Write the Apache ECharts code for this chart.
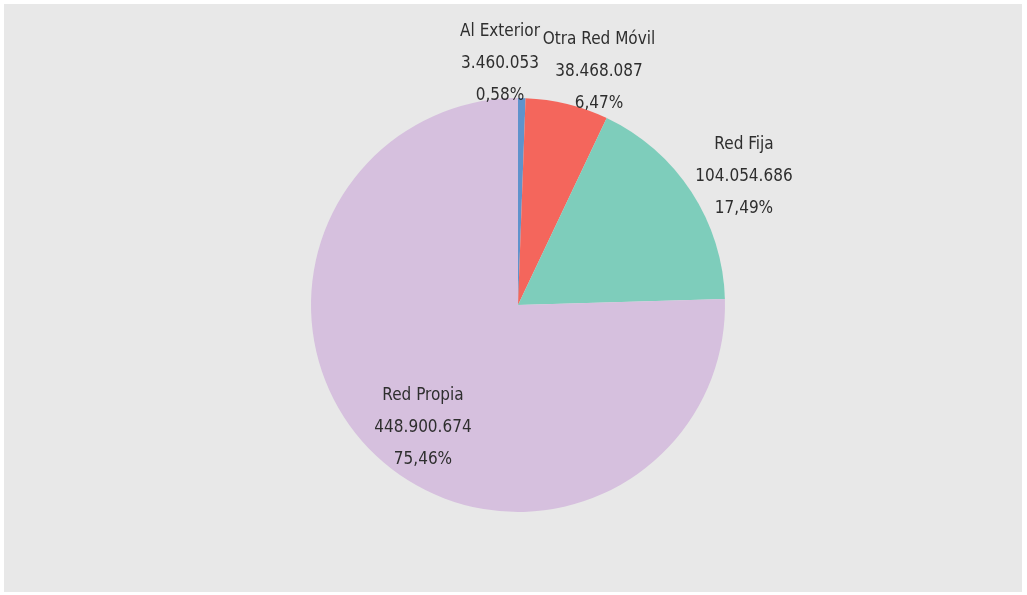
<!DOCTYPE html>
<html><head><meta charset="utf-8">
<script src="https://cdn.jsdelivr.net/npm/echarts@6/dist/echarts.min.js"></script>
<style>html,body{margin:0;padding:0;background:#fff}#c{position:absolute;left:4px;top:4px;width:1018px;height:588px;background:#e8e8e8}</style>
</head><body><div id="c"></div>
<script>
const categories = ['Al Exterior', 'Otra Red Móvil', 'Red Fija', 'Red Propia'];
const values = [3460053, 38468087, 104054686, 448900674];
const valueLabels = ['3.460.053', '38.468.087', '104.054.686', '448.900.674'];
const percentLabels = ['0,58%', '6,47%', '17,49%', '75,46%'];
const colors = ['#5f93cc', '#f4665c', '#7ecdbb', '#d6c0de'];
// label anchor positions (chart px, relative to the container)
const labelPos = [[496, 60], [595, 68], [740, 173], [419, 424]];

const chart = echarts.init(document.getElementById('c'));
chart.setOption({
  backgroundColor: '#e8e8e8',
  animation: false,
  series: [{
    type: 'pie',
    center: [514, 301],
    radius: 207,
    startAngle: 90,
    clockwise: true,
    data: categories.map((n, i) => ({name: n, value: values[i], itemStyle: {color: colors[i]}})),
    label: {
      show: true,
      position: 'outside',
      formatter: p => p.name + '\n' + valueLabels[p.dataIndex] + '\n' + percentLabels[p.dataIndex],
      fontFamily: '"DejaVu Sans Condensed", "Liberation Sans Narrow", sans-serif',
      fontSize: 17,
      lineHeight: 32,
      color: '#2e2e2e',
      align: 'center'
    },
    labelLine: {show: false},
    labelLayout: p => ({
      x: labelPos[p.dataIndex][0],
      y: labelPos[p.dataIndex][1],
      align: 'center',
      verticalAlign: 'middle'
    })
  }]
});
</script></body></html>
